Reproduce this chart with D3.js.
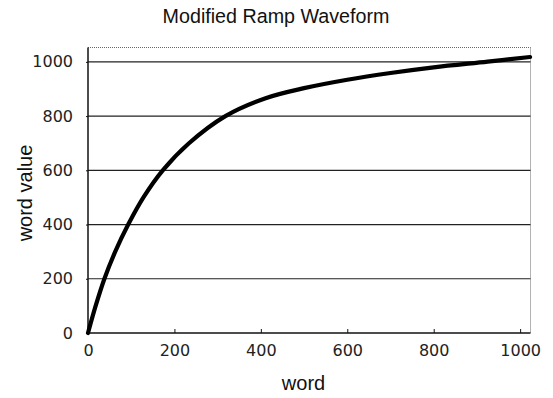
<!DOCTYPE html>
<html>
<head>
<meta charset="utf-8">
<script src="https://cdn.jsdelivr.net/npm/d3@7"></script>
<style>
  html, body { margin: 0; padding: 0; background: #fff; }
  svg { display: block; }
</style>
</head>
<body>
<div id="chart"></div>
<script>
// ---- data ----
const words  = [0, 17, 38, 63, 93, 129, 173, 233, 318, 411, 500, 600, 700, 800, 925, 1023];
const values = [0, 96, 200, 300, 400, 502, 600, 699, 800, 866, 903, 934, 959, 980, 1001, 1018];
const xTicks = [0, 200, 400, 600, 800, 1000];
const yTicks = [0, 200, 400, 600, 800, 1000];
const title = "Modified Ramp Waveform";
const xLabel = "word";
const yLabel = "word value";

const W = 553, H = 398;
const plot = { left: 88, right: 530.5, top: 47.5, bottom: 333 };

const svg = d3.select("#chart").append("svg")
  .attr("width", W).attr("height", H);

const x = d3.scaleLinear().domain([0, 1024]).range([plot.left, plot.right]);
const y = d3.scaleLinear().domain([0, 1053]).range([plot.bottom, plot.top]);

// plot frame (top and right, light dotted)
svg.append("line")
  .attr("x1", plot.left).attr("x2", plot.right)
  .attr("y1", plot.top).attr("y2", plot.top)
  .attr("stroke", "#666").attr("stroke-width", 1).attr("stroke-dasharray", "1,1");
svg.append("line")
  .attr("x1", plot.right).attr("x2", plot.right)
  .attr("y1", plot.top).attr("y2", plot.bottom)
  .attr("stroke", "#666").attr("stroke-width", 1).attr("stroke-dasharray", "1,1");

// horizontal gridlines
svg.append("g").selectAll("line")
  .data(yTicks.filter(d => d > 0))
  .join("line")
  .attr("x1", plot.left).attr("x2", plot.right)
  .attr("y1", d => y(d)).attr("y2", d => y(d))
  .attr("stroke", "#222").attr("stroke-width", 1.2);

// y axis
const yAxis = svg.append("g")
  .attr("transform", `translate(${plot.left},0)`)
  .call(d3.axisLeft(y).tickValues(yTicks).tickSize(2).tickPadding(13).tickFormat(d3.format("d")));
yAxis.select(".domain").attr("stroke", "#111").attr("stroke-width", 1.5)
  .attr("d", `M0,${plot.top}V${plot.bottom}`);
yAxis.selectAll(".tick line").attr("stroke", "#111");
yAxis.selectAll(".tick text")
  .attr("font-family", "DejaVu Sans, sans-serif").attr("font-size", 16)
  .attr("fill", "#222");

// x axis
const xAxis = svg.append("g")
  .attr("transform", `translate(0,${plot.bottom})`)
  .call(d3.axisBottom(x).tickValues(xTicks).tickSize(-4).tickPadding(0).tickFormat(d3.format("d")));
xAxis.select(".domain").attr("stroke", "#111").attr("stroke-width", 1.5)
  .attr("d", `M${plot.left},0H${plot.right}`);
xAxis.selectAll(".tick line").attr("stroke", "#111");
xAxis.selectAll(".tick text")
  .attr("font-family", "DejaVu Sans, sans-serif").attr("font-size", 16)
  .attr("fill", "#222").attr("dy", null).attr("y", 23);

// curve
const pts = words.map((w, i) => [w, values[i]]);
svg.append("path")
  .datum(pts)
  .attr("fill", "none")
  .attr("stroke", "#000")
  .attr("stroke-width", 4.2)
  .attr("stroke-linecap", "round")
  .attr("stroke-linejoin", "round")
  .attr("d", d3.line().x(d => x(d[0])).y(d => y(d[1])).curve(d3.curveCatmullRom.alpha(0.5)));

// title
svg.append("text")
  .attr("x", 276).attr("y", 23)
  .attr("text-anchor", "middle")
  .attr("font-family", "Liberation Sans, Arial, sans-serif")
  .attr("font-size", 19.7).attr("fill", "#111")
  .text(title);

// axis labels
svg.append("text")
  .attr("x", 303.5).attr("y", 390)
  .attr("text-anchor", "middle")
  .attr("font-family", "Liberation Sans, Arial, sans-serif")
  .attr("font-size", 20).attr("fill", "#111")
  .text(xLabel);

svg.append("text")
  .attr("transform", "translate(31.5,193) rotate(-90)")
  .attr("text-anchor", "middle")
  .attr("font-family", "Liberation Sans, Arial, sans-serif")
  .attr("font-size", 20).attr("fill", "#111")
  .text(yLabel);
</script>
</body>
</html>
